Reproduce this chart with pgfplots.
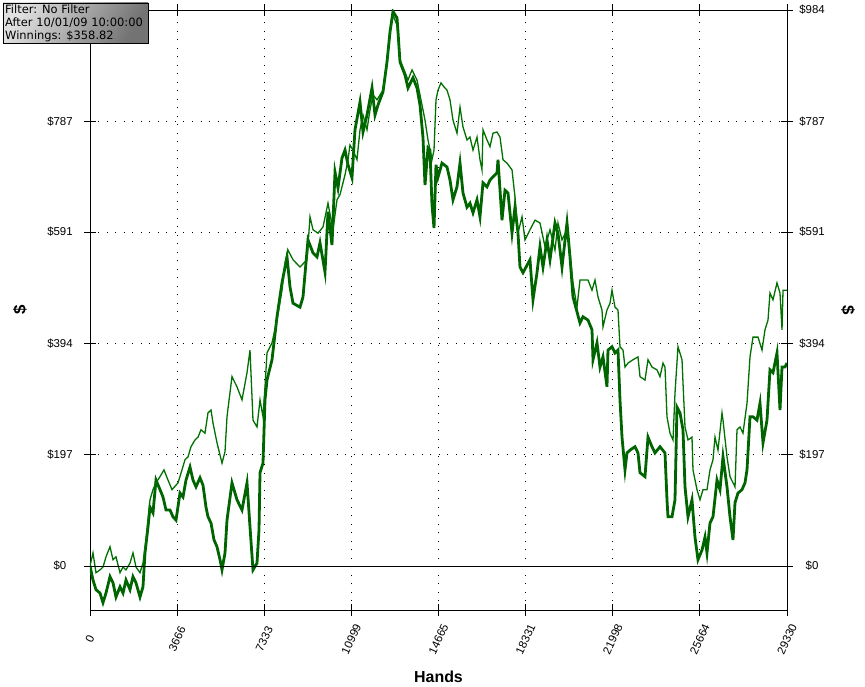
\documentclass[border=0pt]{standalone}
\usepackage{pgfplots}
\pgfplotsset{compat=1.18}
\usepackage{fontspec}
\setmainfont{Liberation Sans}
\newfontfamily\dejavu{DejaVu Sans}
\definecolor{thickg}{RGB}{0,100,0}
\definecolor{thing}{RGB}{0,112,0}
\begin{document}
\begin{tikzpicture}
\begin{axis}[name=ax, scale only axis, width=697bp, height=600bp,
  xmin=0, xmax=29330, ymin=-78, ymax=984,
  scaled x ticks=false, scaled y ticks=false,
  axis line style={black, line width=0.8bp},
  xtick={0,3666,7333,10999,14665,18331,21998,25664,29330},
  xticklabels={0,3666,7333,10999,14665,18331,21998,25664,29330},
  ytick={0,197,394,591,787,984},
  yticklabels={\$0,\$197,\$394,\$591,\$787,{}},
  minor x tick num=4, minor y tick num=4,
  tick align=center, major tick length=12bp, minor tick length=7bp,
  every tick/.style={black, line width=0.8bp},
  tick label style={font=\fontsize{11.5}{13}\selectfont},
  xticklabel style={yshift=-23bp, rotate=65, anchor=center},
  yticklabel style={anchor=center, xshift=-24bp},
  grid=major,
  major grid style={black, line width=0.8bp, dash pattern=on 1bp off 7.5bp},
]
\addplot[thickg, line width=2.8bp] coordinates {
(0,0)(126,-25)(252,-42)(421,-48)(547,-65)(673,-48)(842,-19)(968,-30)(1094,-55)(1262,-37)(1389,-48)(1515,-25)(1683,-42)(1809,-19)(1936,-30)(2104,-55)(2230,-37)(2314,23)(2441,69)(2525,104)(2651,94)(2777,152)(2946,135)(3072,122)(3198,99)(3366,99)(3493,87)(3619,81)(3787,129)(3913,122)(4040,152)(4208,175)(4334,152)(4460,140)(4629,156)(4755,143)(4881,104)(4965,87)(5092,76)(5218,46)(5344,34)(5470,11)(5555,-7)(5681,23)(5765,81)(5975,147)(6186,117)(6396,99)(6607,147)(6733,69)(6859,-7)(7027,5)(7112,64)(7154,165)(7280,182)(7364,294)(7448,329)(7659,365)(7869,441)(8079,501)(8290,547)(8416,494)(8542,465)(8837,458)(8963,476)(9173,577)(9384,554)(9552,547)(9678,572)(9889,520)(10015,627)(10183,568)(10310,697)(10436,669)(10604,722)(10730,736)(10857,710)(11025,687)(11151,772)(11362,821)(11488,768)(11656,798)(11867,846)(11993,798)(12119,816)(12329,839)(12498,892)(12624,945)(12750,981)(12919,970)(12961,945)(13045,892)(13255,869)(13381,846)(13592,864)(13760,846)(13886,816)(14013,758)(14097,674)(14223,740)(14307,736)(14391,639)(14476,598)(14560,710)(14644,688)(14812,713)(15023,706)(15149,683)(15275,648)(15443,671)(15570,713)(15696,660)(15864,635)(15990,642)(16117,625)(16285,648)(16411,618)(16537,678)(16706,671)(16832,683)(17127,696)(17169,719)(17337,612)(17463,665)(17590,660)(17758,589)(17884,635)(18010,589)(18094,529)(18221,519)(18515,542)(18641,471)(18810,519)(18936,565)(19062,529)(19231,577)(19357,542)(19567,607)(19693,589)(19862,529)(20072,607)(20198,547)(20325,476)(20619,430)(20745,441)(20956,435)(21124,418)(21166,365)(21335,395)(21461,352)(21587,370)(21755,317)(21797,382)(21966,388)(22092,377)(22218,382)(22302,294)(22387,228)(22513,170)(22597,200)(22723,205)(22934,211)(23060,200)(23144,165)(23354,158)(23481,228)(23649,211)(23775,200)(23986,211)(24196,200)(24280,117)(24322,87)(24491,87)(24617,117)(24701,281)(24827,271)(24953,241)(25038,140)(25164,87)(25332,117)(25458,51)(25584,11)(25753,28)(25879,51)(25963,23)(26090,76)(26216,87)(26384,152)(26510,135)(26637,193)(26805,140)(26931,87)(27057,46)(27142,112)(27268,129)(27436,135)(27562,147)(27647,170)(27773,264)(27899,264)(28067,258)(28194,288)(28320,218)(28488,258)(28614,347)(28740,342)(28909,377)(29035,276)(29120,352)(29246,352)(29330,359)
};
\addplot[thing, line width=1.3bp] coordinates {
(0,0)(126,23)(252,-12)(421,-7)(547,-2)(673,16)(842,34)(968,11)(1094,16)(1262,-12)(1389,-2)(1515,-7)(1683,5)(1809,23)(1936,-2)(2104,-12)(2230,5)(2356,46)(2525,117)(2651,135)(2777,147)(2946,158)(3114,170)(3282,152)(3451,135)(3619,143)(3703,147)(3871,170)(3998,188)(4124,193)(4250,211)(4418,223)(4545,228)(4671,241)(4839,235)(4965,271)(5092,276)(5176,253)(5344,218)(5555,182)(5681,202)(5765,264)(5975,335)(6186,317)(6396,294)(6607,342)(6733,382)(6859,258)(7027,246)(7154,294)(7280,264)(7364,317)(7448,377)(7659,395)(7869,435)(8079,488)(8206,536)(8332,559)(8542,542)(8837,529)(9131,542)(9258,618)(9384,595)(9594,589)(9805,600)(10015,642)(10225,595)(10394,648)(10520,657)(10730,692)(10857,719)(10941,745)(11067,736)(11235,719)(11362,772)(11488,798)(11656,772)(11782,807)(11909,834)(12077,825)(12329,842)(12498,892)(12624,945)(12750,975)(12919,957)(13045,896)(13255,874)(13381,860)(13550,878)(13760,860)(13886,834)(14097,789)(14223,754)(14391,719)(14476,736)(14560,825)(14644,842)(14770,855)(14896,848)(15023,842)(15149,825)(15275,789)(15443,766)(15570,812)(15696,777)(15864,754)(15990,759)(16117,736)(16285,759)(16411,719)(16495,701)(16537,772)(16706,754)(16832,742)(16958,766)(17127,768)(17253,759)(17379,719)(17547,713)(17758,701)(17884,653)(18010,589)(18179,618)(18305,577)(18515,595)(18726,612)(18936,607)(19146,565)(19357,595)(19567,559)(19693,607)(19862,577)(20072,595)(20198,554)(20325,501)(20493,458)(20619,506)(20745,506)(20956,506)(21124,488)(21250,506)(21377,476)(21545,453)(21587,423)(21755,453)(21882,465)(21966,488)(22092,458)(22218,453)(22302,388)(22429,382)(22513,352)(22639,359)(22850,365)(23060,370)(23144,335)(23354,329)(23481,365)(23649,352)(23860,347)(23986,335)(24112,359)(24196,352)(24280,264)(24406,235)(24533,223)(24617,306)(24743,388)(24912,365)(24954,324)(25038,246)(25164,223)(25332,228)(25374,170)(25542,135)(25668,117)(25795,135)(25963,135)(26090,170)(26216,188)(26300,228)(26426,205)(26595,271)(26637,258)(26805,193)(26931,158)(27142,140)(27226,241)(27352,246)(27478,235)(27647,288)(27773,370)(27899,405)(28110,405)(28278,382)(28404,418)(28530,435)(28614,483)(28740,471)(28909,501)(29035,483)(29120,418)(29162,488)(29330,488)
};
\addplot[black, line width=0.8bp] coordinates {(0,0)(29330,0)};
\end{axis}
\begin{axis}[scale only axis, width=697bp, height=600bp,
  at={(ax.south west)}, anchor=south west,
  xmin=0, xmax=29330, ymin=-78, ymax=984,
  scaled y ticks=false,
  hide x axis, axis y line*=right,
  y axis line style={draw=none},
  ytick={0,197,394,591,787,984},
  yticklabels={\$0,\$197,\$394,\$591,\$787,\$984},
  ytick style={draw=none},
  tick label style={font=\fontsize{11.5}{13}\selectfont},
  yticklabel style={anchor=center, xshift=25bp},
]
\end{axis}
\node[font=\bfseries\fontsize{16}{18}\selectfont] at ([yshift=-67bp]ax.south) {Hands};
\node[font=\bfseries\fontsize{17}{18}\selectfont, rotate=90] at ([xshift=-70bp]ax.west) {\$};
\node[font=\bfseries\fontsize{17}{18}\selectfont, rotate=-90] at ([xshift=61bp]ax.east) {\$};
\shade[draw=black, line width=0.8bp, left color=black!12, right color=black!55, shading angle=60]
  ([xshift=-87bp,yshift=7bp]ax.north west) rectangle ([xshift=58bp,yshift=-33bp]ax.north west);
\node[anchor=north west, align=left, inner sep=0pt, font=\dejavu\fontsize{11.5}{12.7}\selectfont]
  at ([xshift=-85bp,yshift=5bp]ax.north west) {Filter: No Filter\\After 10/01/09 10:00:00\\Winnings: \$358.82};
\pgfresetboundingbox
\path[use as bounding box] ([xshift=-90bp,yshift=-77bp]ax.south west) rectangle ([xshift=78bp,yshift=10bp]ax.north east);
\end{tikzpicture}
\end{document}
